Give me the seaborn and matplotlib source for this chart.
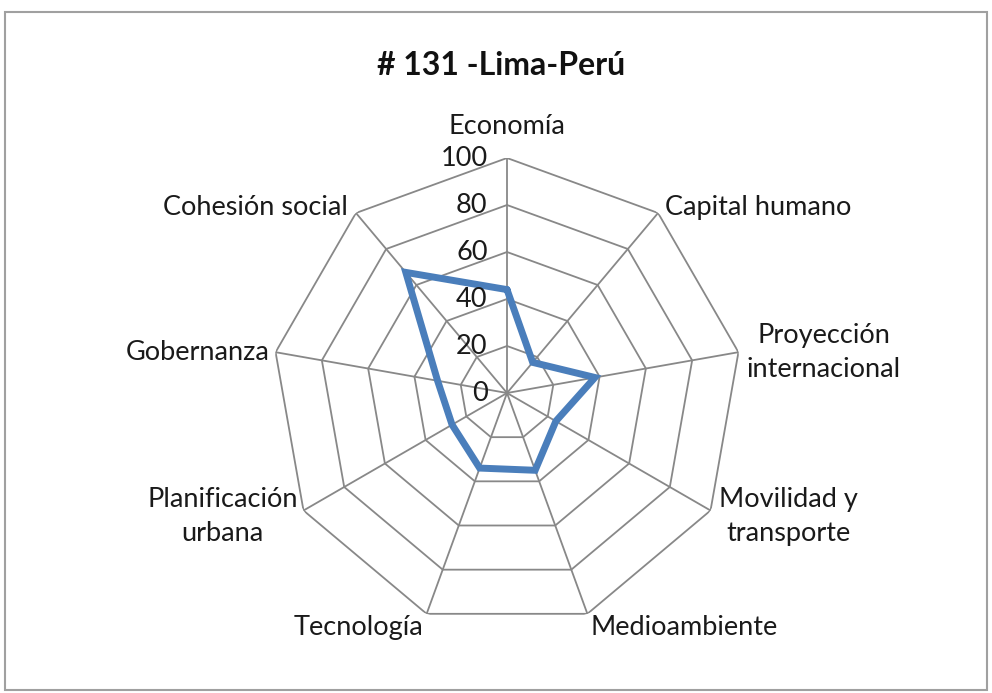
import numpy as np
import seaborn as sns
import matplotlib.pyplot as plt
from matplotlib.patches import Rectangle

# Datos
categorias = [
    "Economía",
    "Capital humano",
    "Proyección\ninternacional",
    "Movilidad y\ntransporte",
    "Medioambiente",
    "Tecnología",
    "Planificación\nurbana",
    "Gobernanza",
    "Cohesión social",
]
valores = [44, 17, 38, 24, 35, 34, 27, 30, 67]
anillos = [0, 20, 40, 60, 80, 100]
titulo = "# 131 -Lima-Perú"

sns.set_theme(style="white")
plt.rcParams["font.family"] = ["Lato", "DejaVu Sans"]

GRIS = "#888888"
AZUL = "#4a7ebb"
TEXTO = "#1a1a1a"

n = len(categorias)
angulos = np.linspace(0, 2 * np.pi, n, endpoint=False)
ang_cerrado = np.append(angulos, angulos[0])

fig = plt.figure(figsize=(9.92, 6.93), dpi=100)
fig.patches.append(Rectangle((0.005, 0.004), 0.99, 0.978, transform=fig.transFigure,
                             fill=False, edgecolor="#a0a0a0", linewidth=1.5))

ax = fig.add_axes([0.2742, 0.0938, 0.4738, 0.6782], projection="polar")
ax.set_theta_offset(np.pi / 2)
ax.set_theta_direction(-1)
ax.set_ylim(0, 100)
ax.grid(False)
ax.spines["polar"].set_visible(False)
ax.set_xticks([])
ax.set_yticks([])
ax.set_facecolor("none")

# rejilla poligonal
for r in anillos[1:]:
    ax.plot(ang_cerrado, [r] * (n + 1), color=GRIS, lw=1.3, zorder=1)
for a in angulos:
    ax.plot([a, a], [0, anillos[-1]], color=GRIS, lw=1.3, zorder=1)

# serie
ax.plot(ang_cerrado, valores + valores[:1], color=AZUL, lw=5,
        solid_joinstyle="miter", zorder=3)

# etiquetas del eje radial
for r in anillos:
    ax.annotate(str(r), xy=(0, r), xytext=(-14, 0), textcoords="offset points",
                ha="right", va="center", fontsize=19.5, color=TEXTO)

# etiquetas de categorías
alineacion = [
    ("center", "bottom", 0, 14),
    ("left", "center", 5, 4),
    ("left", "center", 6, 0),
    ("left", "center", 6, -4),
    ("left", "top", 2, -1),
    ("right", "top", -2, -1),
    ("right", "center", -4, -4),
    ("right", "center", -4, 0),
    ("right", "center", -6, 4),
]
for a, cat, (ha, va, dx, dy) in zip(angulos, categorias, alineacion):
    ax.annotate(cat, xy=(a, 100), xytext=(dx, dy), textcoords="offset points",
                ha=ha, va=va, multialignment="center", fontsize=19.5,
                color=TEXTO, linespacing=1.45)

fig.text(0.505, 0.906, titulo, ha="center", va="center", fontsize=23,
         fontweight="bold", color="#111111")

fig.savefig("out.png", dpi=100, facecolor="white")
